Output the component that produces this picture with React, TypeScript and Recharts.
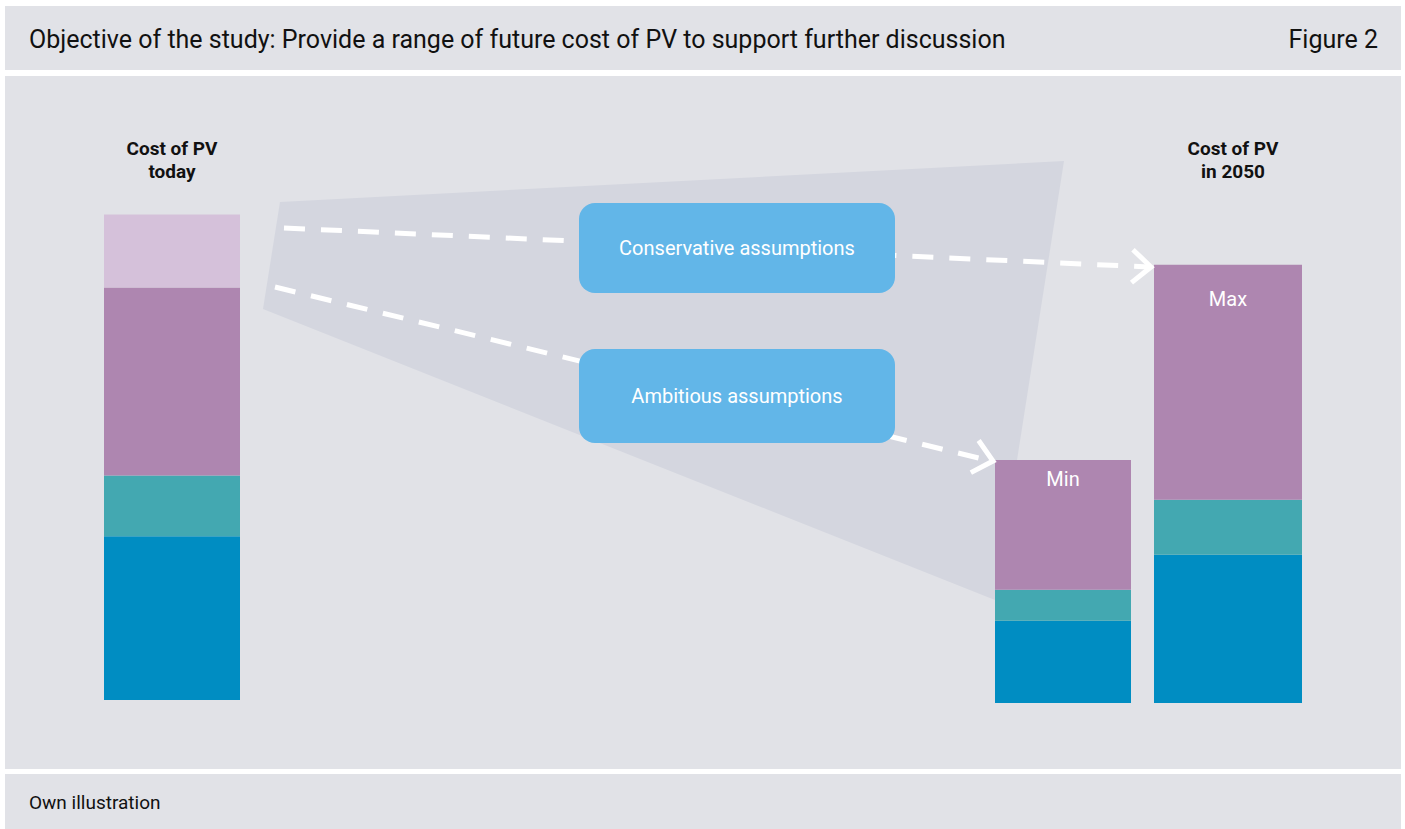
import { BarChart, Bar, XAxis, YAxis, LabelList } from "recharts";

// relative cost index, today = 100
const stages = ["today", "Min", "Max"];
const moduleCost = [33.7, 16.9, 30.5];
const inverterCost = [12.5, 6.4, 11.3];
const bosCost = [38.7, 26.7, 48.4];
const otherCost = [15.0, 0, 0];

const rows = stages.map((name, i) => ({
  name,
  module: moduleCost[i],
  inverter: inverterCost[i],
  bos: bosCost[i],
  other: otherCost[i],
}));

const BG = "#e1e2e7";
const FONT = "Roboto, 'Noto Sans', sans-serif";

const Stack = ({ row, width, labelDy }: { row: any; width: number; labelDy?: number }) => (
  <BarChart
    width={width}
    height={486}
    data={[row]}
    margin={{ top: 0, right: 0, bottom: 0, left: 0 }}
    barCategoryGap={0}
  >
    <XAxis dataKey="name" hide />
    <YAxis hide domain={[0, 100]} />
    <Bar dataKey="module" stackId="a" fill="#008dc2" isAnimationActive={false} />
    <Bar dataKey="inverter" stackId="a" fill="#43a8b1" isAnimationActive={false} />
    <Bar dataKey="bos" stackId="a" fill="#ae86b0" isAnimationActive={false}>
      {labelDy ? (
        <LabelList
          dataKey="name"
          content={(p: any) => (
            <text
              x={p.x + p.width / 2}
              y={p.y + labelDy}
              textAnchor="middle"
              fill="#fff"
              fontSize={20}
              fontFamily={FONT}
            >
              {p.value}
            </text>
          )}
        />
      ) : null}
    </Bar>
    <Bar dataKey="other" stackId="a" fill="#d5c1da" isAnimationActive={false} />
  </BarChart>
);

const arrowHead = (x1: number, y1: number, x2: number, y2: number) => {
  const a = Math.atan2(y1 - y2, x1 - x2);
  const L = 25;
  const s = 0.72;
  return `${x2 + L * Math.cos(a + s)},${y2 + L * Math.sin(a + s)} ${x2},${y2} ${x2 + L * Math.cos(a - s)},${y2 + L * Math.sin(a - s)}`;
};

const boxStyle: React.CSSProperties = {
  position: "absolute",
  left: 579,
  width: 316,
  background: "#62b6e8",
  borderRadius: 16,
  color: "#fff",
  fontSize: 20,
  fontFamily: FONT,
  display: "flex",
  alignItems: "center",
  justifyContent: "center",
};

const titleStyle: React.CSSProperties = {
  position: "absolute",
  width: 200,
  textAlign: "center",
  fontWeight: 700,
  fontSize: 19,
  lineHeight: "23px",
  color: "#111",
  fontFamily: FONT,
};

export default function App() {
  return (
    <div
      style={{
        position: "absolute",
        left: 0,
        top: 0,
        width: 1405,
        height: 829,
        background: "#fff",
        fontFamily: FONT,
        overflow: "hidden",
      }}
    >
      {/* header */}
      <div
        style={{
          position: "absolute",
          left: 5,
          top: 6,
          width: 1396,
          height: 64,
          background: BG,
          display: "flex",
          alignItems: "center",
          justifyContent: "space-between",
          padding: "2px 23px 0 24px",
          boxSizing: "border-box",
          fontSize: 25,
          color: "#111",
        }}
      >
        <span>Objective of the study: Provide a range of future cost of PV to support further discussion</span>
        <span>Figure 2</span>
      </div>

      {/* main panel */}
      <div style={{ position: "absolute", left: 5, top: 76, width: 1396, height: 693, background: BG }} />

      <svg width={1405} height={829} style={{ position: "absolute", left: 0, top: 0 }}>
        <polygon points="280,202 1064,161 995,600 263,309" fill="#d4d6df" />
      </svg>

      <div style={{ ...titleStyle, left: 72, top: 137 }}>
        Cost of PV
        <br />
        today
      </div>
      <div style={{ ...titleStyle, left: 1133, top: 137 }}>
        Cost of PV
        <br />
        in 2050
      </div>

      <div style={{ position: "absolute", left: 104, top: 214 }}>
        <Stack row={rows[0]} width={136} />
      </div>
      <div style={{ position: "absolute", left: 995, top: 217 }}>
        <Stack row={rows[1]} width={136} labelDy={26} />
      </div>
      <div style={{ position: "absolute", left: 1154, top: 217 }}>
        <Stack row={rows[2]} width={148} labelDy={41} />
      </div>

      <svg width={1405} height={829} style={{ position: "absolute", left: 0, top: 0 }}>
        <g stroke="#fff" strokeWidth={5} fill="none">
          <line x1={284} y1={228} x2={1149} y2={267} strokeDasharray="21 16" />
          <polyline points={arrowHead(284, 228, 1151, 267)} strokeLinejoin="miter" />
          <line x1={275} y1={287} x2={991} y2={461} strokeDasharray="21 16" />
          <polyline points={arrowHead(275, 287, 993, 461)} strokeLinejoin="miter" />
        </g>
      </svg>

      <div style={{ ...boxStyle, top: 203, height: 90 }}>Conservative assumptions</div>
      <div style={{ ...boxStyle, top: 349, height: 94 }}>Ambitious assumptions</div>

      {/* footer */}
      <div
        style={{
          position: "absolute",
          left: 5,
          top: 774,
          width: 1396,
          height: 55,
          background: BG,
          display: "flex",
          alignItems: "center",
          padding: "2px 0 0 24px",
          boxSizing: "border-box",
          fontSize: 19,
          color: "#111",
        }}
      >
        Own illustration
      </div>
    </div>
  );
}
